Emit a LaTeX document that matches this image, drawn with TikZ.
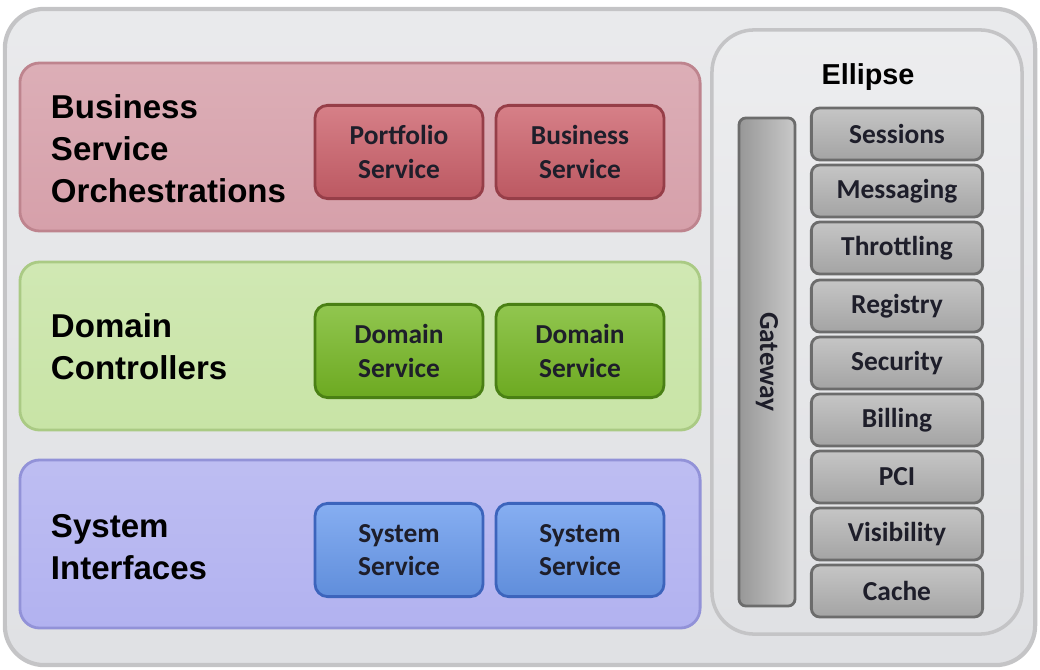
\documentclass[tikz,border=0pt]{standalone}
\usepackage{fontspec}
\setmainfont{Liberation Sans}
\newfontfamily\btnfont{Carlito}
\usetikzlibrary{positioning}

\definecolor{panelgrey}{RGB}{224,225,228}
\definecolor{panelrim}{RGB}{196,196,198}
\definecolor{pinklayer}{RGB}{214,160,170}
\definecolor{pinkrim}{RGB}{190,132,142}
\definecolor{greenlayer}{RGB}{200,228,166}
\definecolor{greenrim}{RGB}{170,202,132}
\definecolor{bluelayer}{RGB}{178,178,240}
\definecolor{bluerim}{RGB}{146,146,216}
\definecolor{pinkbtn}{RGB}{204,96,106}
\definecolor{pinkbtnrim}{RGB}{150,62,72}
\definecolor{greenbtn}{RGB}{118,184,36}
\definecolor{greenbtnrim}{RGB}{74,128,20}
\definecolor{bluebtn}{RGB}{104,154,238}
\definecolor{bluebtnrim}{RGB}{60,100,188}
\definecolor{greybtn}{RGB}{178,178,178}
\definecolor{greybtnrim}{RGB}{108,108,108}
\definecolor{btntext}{RGB}{30,30,42}

\tikzset{
  panel/.style={rounded corners=28pt, draw=panelrim, line width=3pt,
    top color=panelgrey!70!white, bottom color=panelgrey, inner sep=0pt},
  layer/.style={rounded corners=14pt, line width=2pt, inner sep=0pt,
    minimum width=17cm, minimum height=4.2cm},
  layertext/.style={anchor=west, align=left, font=\bfseries\fontsize{23.5}{29.8}\selectfont},
  btn/.style={rounded corners=9pt, line width=2pt, inner sep=0pt, align=center,
    text=btntext, minimum width=4.2cm, minimum height=2.33cm,
    font=\btnfont\bfseries\fontsize{19.5}{24}\selectfont},
  greybox/.style={btn, draw=greybtnrim, top color=greybtn!75!white, bottom color=greybtn!92!black,
    minimum width=4.28cm, minimum height=1.3cm, rounded corners=6pt},
}

\begin{document}
\begin{tikzpicture}[x=0.025cm, y=-0.025cm]
\useasboundingbox (0,0) rectangle (1040,670);

\node [panel, minimum width=25.75cm, minimum height=16.4cm] (outer) at (520,337) {};

\node [layer, draw=pinkrim, top color=pinklayer!85!white, bottom color=pinklayer] (orch) at (360,147) {};
\node [layer, draw=greenrim, top color=greenlayer!85!white, bottom color=greenlayer] (ctrl) at (360,346) {};
\node [layer, draw=bluerim, top color=bluelayer!85!white, bottom color=bluelayer] (sysif) at (360,544) {};

\node [layertext] (orchlbl) at (46,149) {Business\\Service\\Orchestrations};
\node [layertext] (ctrllbl) at (46,347) {Domain\\Controllers};
\node [layertext] (sysiflbl) at (46,547) {System\\Interfaces};

\begin{scope}[every node/.append style={btn}]
\node [draw=pinkbtnrim, top color=pinkbtn!80!white, bottom color=pinkbtn!92!black] (portfolio) at (399,152) {Portfolio\\Service};
\node [draw=pinkbtnrim, top color=pinkbtn!80!white, bottom color=pinkbtn!92!black] (business) at (580,152) {Business\\Service};

\node [draw=greenbtnrim, top color=greenbtn!80!white, bottom color=greenbtn!92!black] (domaina) at (399,351) {Domain\\Service};
\node [draw=greenbtnrim, top color=greenbtn!80!white, bottom color=greenbtn!92!black] (domainb) at (580,351) {Domain\\Service};

\node [draw=bluebtnrim, top color=bluebtn!80!white, bottom color=bluebtn!92!black] (systema) at (399,550) {System\\Service};
\node [draw=bluebtnrim, top color=bluebtn!80!white, bottom color=bluebtn!92!black] (systemb) at (580,550) {System\\Service};
\end{scope}

\node [panel, rounded corners=30pt, line width=2.5pt, minimum width=7.75cm, minimum height=15.1cm,
  top color=panelgrey!60!white, bottom color=panelgrey] (ellipse) at (867,332) {};
\node [font=\bfseries\fontsize{20.5}{24}\selectfont] (ellipselbl) at (868,77) {Ellipse};

\node [greybox, minimum width=1.4cm, minimum height=12.2cm, rounded corners=5pt,
  left color=greybtn!85!black, right color=greybtn!70!white] (gateway) at (767,362) {};
\node [rotate=-90, text=btntext, font=\btnfont\bfseries\fontsize{19.5}{24}\selectfont] (gatewaylbl) at (gateway.center) {Gateway};

\node [greybox] (sessions) at (897,134) {Sessions};
\node [greybox] (messaging) at (897,191) {Messaging};
\node [greybox] (throttling) at (897,248) {Throttling};
\node [greybox] (registry) at (897,306) {Registry};
\node [greybox] (security) at (897,363) {Security};
\node [greybox] (billing) at (897,420) {Billing};
\node [greybox] (pci) at (897,477) {PCI};
\node [greybox] (visibility) at (897,534) {Visibility};
\node [greybox] (cache) at (897,591) {Cache};

\end{tikzpicture}
\end{document}
